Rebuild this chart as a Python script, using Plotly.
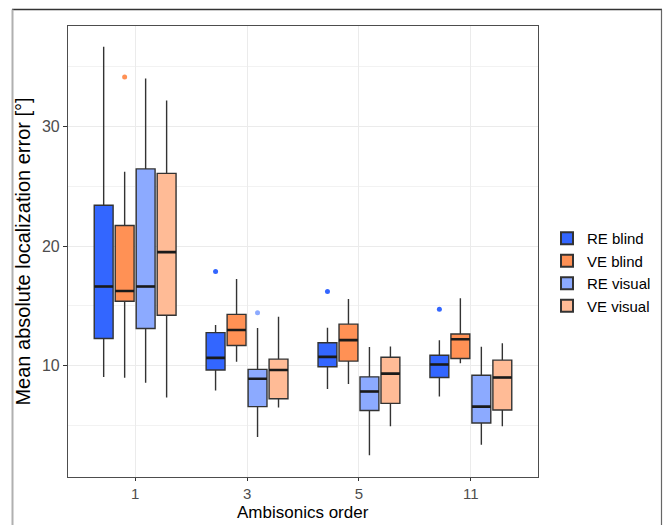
import plotly.graph_objects as go

orders = ["1", "3", "5", "11"]
series = ["RE blind", "VE blind", "RE visual", "VE visual"]
colors = ["#3366FF", "#FF9155", "#8CAAFF", "#FFBB96"]

# per series: values for orders 1, 3, 5, 11
lowerfence = {
    "RE blind":  [9.05, 7.92, 8.06, 7.43],
    "VE blind":  [8.99, 10.33, 8.47, 10.20],
    "RE visual": [8.58, 4.03, 2.52, 3.38],
    "VE visual": [7.35, 6.50, 4.94, 4.94],
}
q1 = {
    "RE blind":  [12.28, 9.65, 9.92, 9.01],
    "VE blind":  [15.40, 11.70, 10.39, 10.61],
    "RE visual": [13.12, 6.58, 6.25, 5.21],
    "VE visual": [14.22, 7.24, 6.85, 6.30],
}
median = {
    "RE blind":  [16.63, 10.66, 10.74, 10.11],
    "VE blind":  [16.25, 12.99, 12.14, 12.22],
    "RE visual": [16.63, 8.91, 7.84, 6.58],
    "VE visual": [19.51, 9.65, 9.34, 9.01],
}
q3 = {
    "RE blind":  [23.43, 12.77, 11.92, 10.88],
    "VE blind":  [21.73, 14.30, 13.48, 12.66],
    "RE visual": [26.47, 9.70, 9.07, 9.21],
    "VE visual": [26.10, 10.55, 10.71, 10.47],
}
upperfence = {
    "RE blind":  [36.70, 13.40, 13.18, 12.14],
    "VE blind":  [26.24, 17.26, 15.59, 15.65],
    "RE visual": [34.03, 13.16, 11.56, 11.59],
    "VE visual": [32.19, 14.11, 11.62, 11.89],
}
outliers = {
    "RE blind":  [[], [17.89], [16.22], [14.72]],
    "VE blind":  [[34.16], [], [], []],
    "RE visual": [[], [14.44], [], []],
    "VE visual": [[], [], [], []],
}
x_title = "Ambisonics order"
y_title = "Mean absolute localization error [°]"

FONT = "Arial, Liberation Sans, sans-serif"
fig = go.Figure()
for s, c in zip(series, colors):
    # sample points per box: whisker ends (data points) plus outliers
    pts = [[lo, hi] + out for lo, hi, out in zip(lowerfence[s], upperfence[s], outliers[s])]
    fig.add_trace(go.Box(
        name=s, x=orders, y=pts,
        q1=q1[s], median=median[s], q3=q3[s],
        lowerfence=lowerfence[s], upperfence=upperfence[s],
        boxpoints="outliers", jitter=0, pointpos=0,
        fillcolor=c, line=dict(color="#333333", width=1.4),
        marker=dict(color=c, size=5, line=dict(width=0)),
        offsetgroup=s, alignmentgroup="all", whiskerwidth=0,
        hoverinfo="skip",
    ))
# thicker median lines overlaid
for s in series:
    fig.add_trace(go.Box(
        name=s, x=orders,
        q1=median[s], median=median[s], q3=median[s],
        lowerfence=median[s], upperfence=median[s],
        boxpoints=False, fillcolor="rgba(0,0,0,0)",
        line=dict(color="#1a1a1a", width=2.6),
        offsetgroup=s, alignmentgroup="all", showlegend=False,
        hoverinfo="skip",
    ))

L, R, T, B = 68, 127, 26, 48
W, H = 665, 525
pw, ph = W - L - R, H - T - B
def px(x):
    return (x - L) / pw
def py(y):
    return (H - B - y) / ph

fig.update_layout(
    width=W, height=H,
    margin=dict(l=L, r=R, t=T, b=B, autoexpand=False),
    paper_bgcolor="white", plot_bgcolor="white",
    boxmode="group", boxgap=0.25, boxgroupgap=0.1,
    font=dict(family=FONT, color="#000000"),
    legend=dict(x=px(547), y=py(222), xanchor="left", yanchor="top",
                font=dict(size=15, color="#000000", family=FONT),
                tracegroupgap=0, itemsizing="constant", bgcolor="rgba(0,0,0,0)"),
    annotations=[
        dict(text=x_title, xref="paper", yref="paper", x=0.5, y=py(512.5),
             xanchor="center", yanchor="middle", showarrow=False,
             font=dict(size=17, color="#000000", family=FONT)),
    ],
    shapes=[
        dict(type="line", xref="paper", yref="paper", x0=px(12), x1=px(662), y0=py(9.5), y1=py(9.5),
             line=dict(color="#333333", width=1.5)),
        dict(type="line", xref="paper", yref="paper", x0=px(12.5), x1=px(12.5), y0=py(9.5), y1=py(530),
             line=dict(color="#b0b0b0", width=2)),
        dict(type="line", xref="paper", yref="paper", x0=px(661.5), x1=px(661.5), y0=py(9.5), y1=py(530),
             line=dict(color="#666666", width=1.2)),
    ],
)
fig.update_xaxes(
    type="category", range=[-0.6, 3.6],
    showgrid=True, gridcolor="#EBEBEB", gridwidth=1.2,
    showline=True, mirror=True, linecolor="#4d4d4d", linewidth=1.2,
    ticks="outside", ticklen=3, tickcolor="#333333",
    tickfont=dict(size=15, color="#4d4d4d", family=FONT),
    zeroline=False, automargin=False,
)
fig.update_yaxes(
    range=[0.69, 38.43], tick0=0, dtick=10,
    showgrid=True, gridcolor="#EBEBEB", gridwidth=1.2,
    minor=dict(dtick=5, tick0=0, showgrid=True, gridcolor="#F2F2F2", gridwidth=0.8, ticks=""),
    showline=True, mirror=True, linecolor="#4d4d4d", linewidth=1.2,
    ticks="outside", ticklen=4, tickcolor="#333333",
    tickfont=dict(size=16, color="#4d4d4d", family=FONT),
    title=dict(text=y_title, font=dict(size=20, color="#000000", family=FONT), standoff=5),
    zeroline=False, automargin=False,
)

fig.write_html("out.html")
